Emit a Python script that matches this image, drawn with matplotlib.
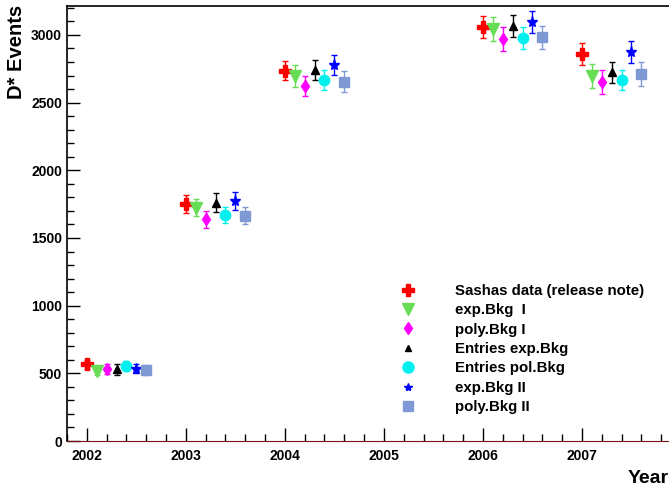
import matplotlib
matplotlib.use("Agg")
import matplotlib.pyplot as plt
from matplotlib.ticker import MultipleLocator, FixedLocator
from matplotlib.lines import Line2D
import numpy as np

plt.rcParams['font.family'] = ['Liberation Sans', 'DejaVu Sans']
plt.rcParams['font.weight'] = 'bold'

years = [2002, 2003, 2004, 2006, 2007]
year_ticks = [2002, 2003, 2004, 2005, 2006, 2007]
series_names = ["Sashas data (release note)", "exp.Bkg  I", "poly.Bkg I",
                "Entries exp.Bkg", "Entries pol.Bkg", "exp.Bkg II", "poly.Bkg II"]
offsets = [0.0, 0.1, 0.2, 0.3, 0.4, 0.5, 0.6]

sashas = [567, 1751, 2736, 3057, 2857]
sashas_err = [35, 63, 71, 81, 81]
exp1 = [520, 1722, 2697, 3042, 2697]
exp1_err = [35, 63, 80, 89, 89]
poly1 = [535, 1640, 2623, 2968, 2655]
poly1_err = [37, 63, 71, 89, 89]
entries_exp = [530, 1759, 2741, 3067, 2724]
entries_exp_err = [40, 70, 74, 81, 78]
entries_pol = [554, 1670, 2668, 2980, 2668]
entries_pol_err = [35, 59, 74, 81, 74]
exp2 = [535, 1773, 2778, 3098, 2872]
exp2_err = [35, 66, 76, 81, 81]
poly2 = [525, 1663, 2655, 2983, 2710]
poly2_err = [35, 63, 78, 85, 89]

values = [sashas, exp1, poly1, entries_exp, entries_pol, exp2, poly2]
errors = [sashas_err, exp1_err, poly1_err, entries_exp_err, entries_pol_err, exp2_err, poly2_err]
colors = ['#ff0000', '#66dd55', '#ff00ff', '#000000', '#00f0f0', '#0000ff', '#7f99d5']
markers = ['P', 'v', 'd', '^', 'o', '*', 's']
msizes = [8, 8, 6.5, 5.5, 7.5, 8, 7.5]
leg_sizes = [8, 8, 6, 5, 8, 6, 7]

fig = plt.figure(figsize=(6.69, 4.86), dpi=100)
ax = fig.add_axes([67/669, 45/486, (681-67)/669, (441-6)/486])

handles = []
for name, vals, errs, c, m, ms, lms, off in zip(series_names, values, errors, colors, markers, msizes, leg_sizes, offsets):
    xs = np.array(years) + off
    ax.errorbar(xs, vals, yerr=errs, fmt=m, color=c, ms=ms, mec=c, mfc=c,
                elinewidth=1, capsize=2, capthick=1)
    handles.append(Line2D([], [], ls='none', marker=m, color=c, mec=c, mfc=c, ms=lms, label=name))

ax.set_xlim(2001.8, 2008.0)
ax.set_ylim(0, 3214)
ax.xaxis.set_major_locator(FixedLocator(year_ticks))
ax.xaxis.set_minor_locator(MultipleLocator(0.2))
ax.yaxis.set_major_locator(MultipleLocator(500))
ax.yaxis.set_minor_locator(MultipleLocator(100))
ax.tick_params(which='both', direction='in', top=False, right=False, labelsize=10)
ax.tick_params(which='major', length=9.5, width=1)
ax.tick_params(which='minor', length=5, width=1)
ax.tick_params(axis='x', pad=6)
for lab in ax.get_xticklabels() + ax.get_yticklabels():
    lab.set_fontweight('bold')
ax.spines['right'].set_visible(False)
ax.spines['bottom'].set_color('#7a1010')
ax.spines['left'].set_linewidth(1.2)
ax.spines['top'].set_linewidth(1.2)

leg = ax.legend(handles=handles, loc='upper left', bbox_to_anchor=(0.527, 0.375),
                frameon=False, fontsize=10.8, handletextpad=2.4, labelspacing=0.36,
                borderaxespad=0, handlelength=1.5)
for t in leg.get_texts():
    t.set_fontweight('bold')

fig.text(0.01, 0.99, "D* Events", rotation=90, ha='left', va='top', fontsize=14.5, fontweight='bold')
fig.text(1.0, -0.003, "Year", ha='right', va='bottom', fontsize=14, fontweight='bold')

fig.savefig("out.png", dpi=100)
